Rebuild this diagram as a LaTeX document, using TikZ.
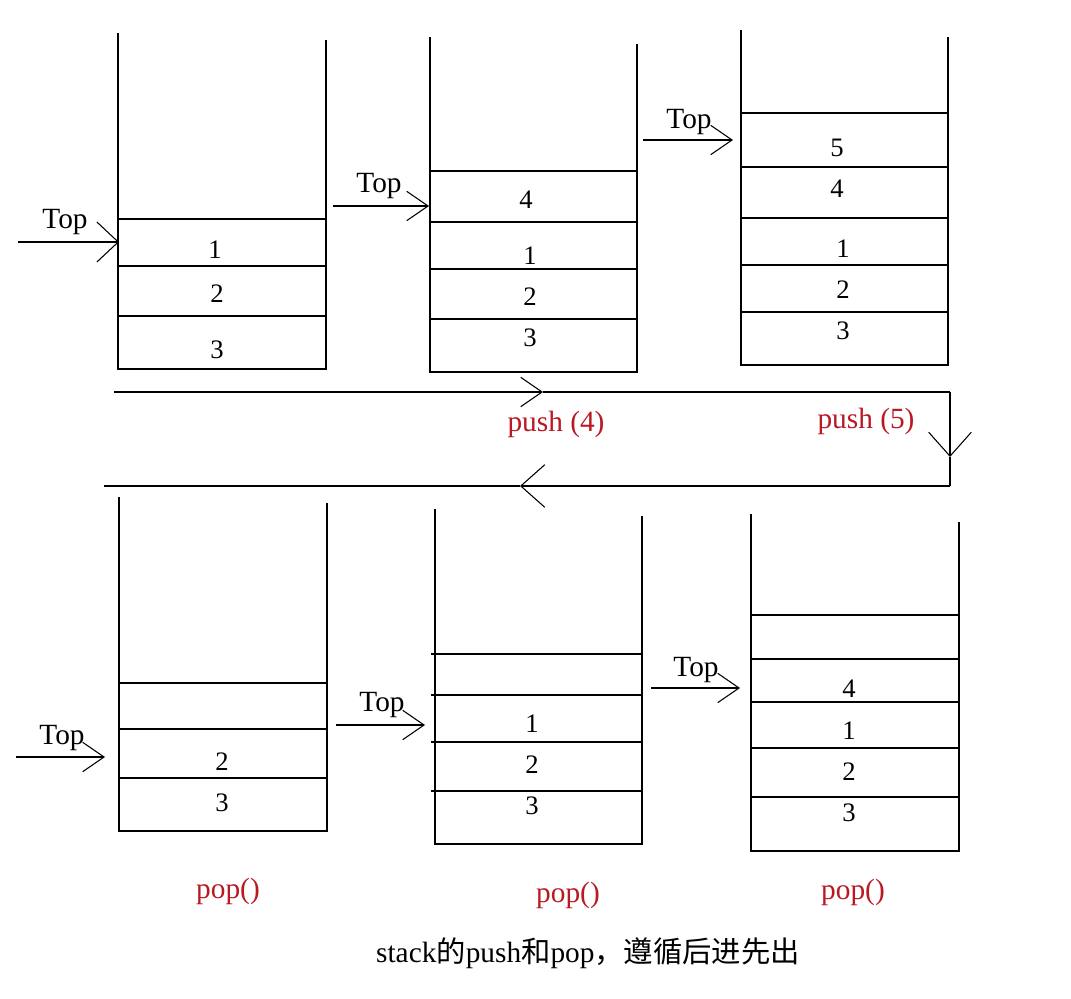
\documentclass[tikz,border=0pt]{standalone}
\usepackage{fontspec}
\setmainfont{Liberation Serif}
\newfontfamily\cjk{Noto Sans CJK SC}
\usetikzlibrary{arrows.meta}
\definecolor{lblred}{RGB}{185,25,35}
\begin{document}
\begin{tikzpicture}[x=0.75pt,y=-0.75pt,
  wall/.style={line width=0.8pt,black},
  toptxt/.style={font=\fontsize{22}{26}\selectfont,inner sep=0pt},
  num/.style={font=\fontsize{20}{24}\selectfont,inner sep=0pt},
  redlbl/.style={font=\fontsize{22}{26}\selectfont,text=lblred,inner sep=0pt},
  vtip/.style={-{Straight Barb[length=16pt,width=30pt,line width=0.8pt]}},
  vtipb/.style={-{Straight Barb[length=18pt,width=32pt,line width=0.8pt]}},
  vtips/.style={-{Straight Barb[length=16pt,width=22pt,line width=0.8pt]}}]
\useasboundingbox (0,0) rectangle (1071,999);
\fill[white] (0,0) rectangle (1071,999);

% ---------- stack 1 ----------
\draw[wall] (118,33) -- (118,369) -- (326,369) -- (326,40);
\foreach \y in {219,266,316} \draw[wall] (118,\y) -- (326,\y);
\node[num] (s1a) at (215,250) {1};
\node[num] (s1b) at (217,294) {2};
\node[num] (s1c) at (217,350) {3};
\coordinate (t1s) at (18,242); \coordinate (t1e) at (119,242);
\draw[wall,vtip] (t1s) -- (t1e);
\node[toptxt] (t1) at (65,222) {Top};

% ---------- stack 2 ----------
\draw[wall] (430,37) -- (430,372) -- (637,372) -- (637,44);
\foreach \y in {171,222,269,319} \draw[wall] (430,\y) -- (637,\y);
\node[num] (s2a) at (526,200) {4};
\node[num] (s2b) at (530,256) {1};
\node[num] (s2c) at (530,297) {2};
\node[num] (s2d) at (530,338) {3};
\coordinate (t2s) at (333,206); \coordinate (t2e) at (429,206);
\draw[wall,vtips] (t2s) -- (t2e);
\node[toptxt] (t2) at (379,186) {Top};

% ---------- stack 3 ----------
\draw[wall] (741,30) -- (741,365) -- (948,365) -- (948,37);
\foreach \y in {113,167,218,265,312} \draw[wall] (741,\y) -- (948,\y);
\node[num] (s3a) at (837,148) {5};
\node[num] (s3b) at (837,189) {4};
\node[num] (s3c) at (843,249) {1};
\node[num] (s3d) at (843,290) {2};
\node[num] (s3e) at (843,331) {3};
\coordinate (t3s) at (643,140); \coordinate (t3e) at (733,140);
\draw[wall,vtips] (t3s) -- (t3e);
\node[toptxt] (t3) at (689,122) {Top};

% ---------- flow arrows ----------
\coordinate (fa) at (114,392);
\coordinate (fm) at (543,392);
\coordinate (fb) at (950,392);
\coordinate (fd) at (950,457);
\coordinate (fc) at (950,486);
\coordinate (fn) at (520,486);
\coordinate (fe) at (104,486);
\draw[wall,vtips] (fa) -- (fm);
\draw[wall] (fm) -- (fb);
\draw[wall,vtipb] (fb) -- (fd);
\draw[wall] (fd) -- (fc);
\draw[wall,vtipb] (fc) -- (fn);
\draw[wall] (fn) -- (fe);
\node[redlbl] (p4) at (556,424) {push (4)};
\node[redlbl] (p5) at (866,421) {push (5)};

% ---------- stack 4 ----------
\draw[wall] (119,497) -- (119,831) -- (327,831) -- (327,503);
\foreach \y in {683,729,778} \draw[wall] (119,\y) -- (327,\y);
\node[num] (s4a) at (222,762) {2};
\node[num] (s4b) at (222,803) {3};
\coordinate (t4s) at (16,757); \coordinate (t4e) at (105,757);
\draw[wall,vtips] (t4s) -- (t4e);
\node[toptxt] (t4) at (62,738) {Top};

% ---------- stack 5 ----------
\draw[wall] (435,509) -- (435,844) -- (642,844) -- (642,516);
\foreach \y in {654,695,742,791} \draw[wall] (431,\y) -- (642,\y);
\node[num] (s5a) at (532,724) {1};
\node[num] (s5b) at (532,765) {2};
\node[num] (s5c) at (532,806) {3};
\coordinate (t5s) at (336,725); \coordinate (t5e) at (425,725);
\draw[wall,vtips] (t5s) -- (t5e);
\node[toptxt] (t5) at (382,705) {Top};

% ---------- stack 6 ----------
\draw[wall] (751,514) -- (751,851) -- (959,851) -- (959,522);
\foreach \y in {615,659,702,748,797} \draw[wall] (751,\y) -- (959,\y);
\node[num] (s6a) at (849,689) {4};
\node[num] (s6b) at (849,731) {1};
\node[num] (s6c) at (849,772) {2};
\node[num] (s6d) at (849,813) {3};
\coordinate (t6s) at (651,688); \coordinate (t6e) at (740,688);
\draw[wall,vtips] (t6s) -- (t6e);
\node[toptxt] (t6) at (696,670) {Top};

% ---------- labels ----------
\node[redlbl] (q1) at (228,891) {pop()};
\node[redlbl] (q2) at (568,895) {pop()};
\node[redlbl] (q3) at (853,892) {pop()};
\node[font=\fontsize{22}{26}\selectfont,inner sep=0pt] (cap) at (588,953) {stack{\cjk 的}push{\cjk 和}pop{\cjk ，遵循后进先出}};
\end{tikzpicture}
\end{document}
